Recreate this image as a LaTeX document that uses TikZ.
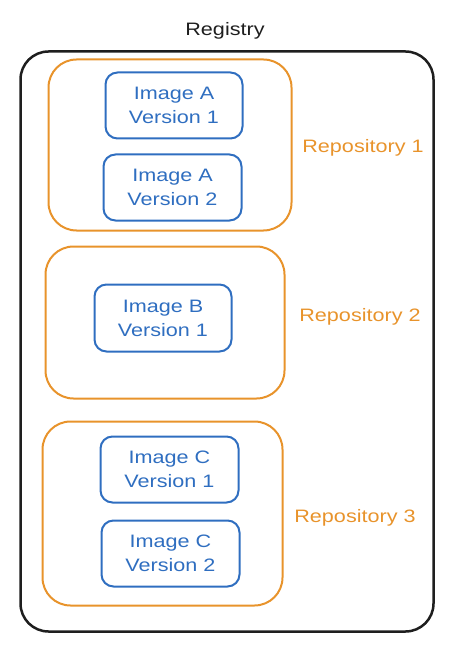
\documentclass[tikz,border=0pt]{standalone}
\usepackage{fontspec}
\setmainfont{Liberation Sans}[FakeStretch=1.2]
\definecolor{regblack}{HTML}{1E1E1E}
\definecolor{repoorange}{HTML}{E8932B}
\definecolor{imgblue}{HTML}{2F6EC0}
\begin{document}
\begin{tikzpicture}[x=1pt,y=-1pt,
  boxbase/.style={draw, line width=2pt, inner sep=0pt, align=center},
  registrybox/.style={boxbase, draw=regblack, line width=2.5pt, rounded corners=28pt},
  repobox/.style={boxbase, draw=repoorange, rounded corners=28pt},
  imagebox/.style={boxbase, draw=imgblue, rounded corners=12pt, text=imgblue,
    font=\fontsize{18}{24}\selectfont},
  lbl/.style={font=\fontsize{18}{24}\selectfont, inner sep=0pt}
]
\useasboundingbox (0,0) rectangle (449,647);
\node[registrybox, minimum width=413pt, minimum height=580pt] (reg) at (227,341.5) {};
\node[lbl, text=regblack] (reglbl) at (225,31) {Registry};

\node[repobox, minimum width=243pt, minimum height=171pt] (repo1) at (170,145) {};
\node[repobox, minimum width=239pt, minimum height=152pt] (repo2) at (165,322.5) {};
\node[repobox, minimum width=240pt, minimum height=184pt] (repo3) at (162.5,513.5) {};

\node[lbl, text=repoorange] (r1lbl) at (363,148) {Repository 1};
\node[lbl, text=repoorange] (r2lbl) at (360,317) {Repository 2};
\node[lbl, text=repoorange] (r3lbl) at (355,518) {Repository 3};

\node[imagebox, minimum width=137pt, minimum height=66pt] (a1) at (174,105.5) {Image A\\Version 1};
\node[imagebox, minimum width=138pt, minimum height=66pt] (a2) at (172.5,187.5) {Image A\\Version 2};
\node[imagebox, minimum width=137pt, minimum height=67pt] (b1) at (163,318) {Image B\\Version 1};
\node[imagebox, minimum width=138pt, minimum height=66pt] (c1) at (169.5,469.5) {Image C\\Version 1};
\node[imagebox, minimum width=138pt, minimum height=66pt] (c2) at (170.5,553.5) {Image C\\Version 2};
\end{tikzpicture}
\end{document}
